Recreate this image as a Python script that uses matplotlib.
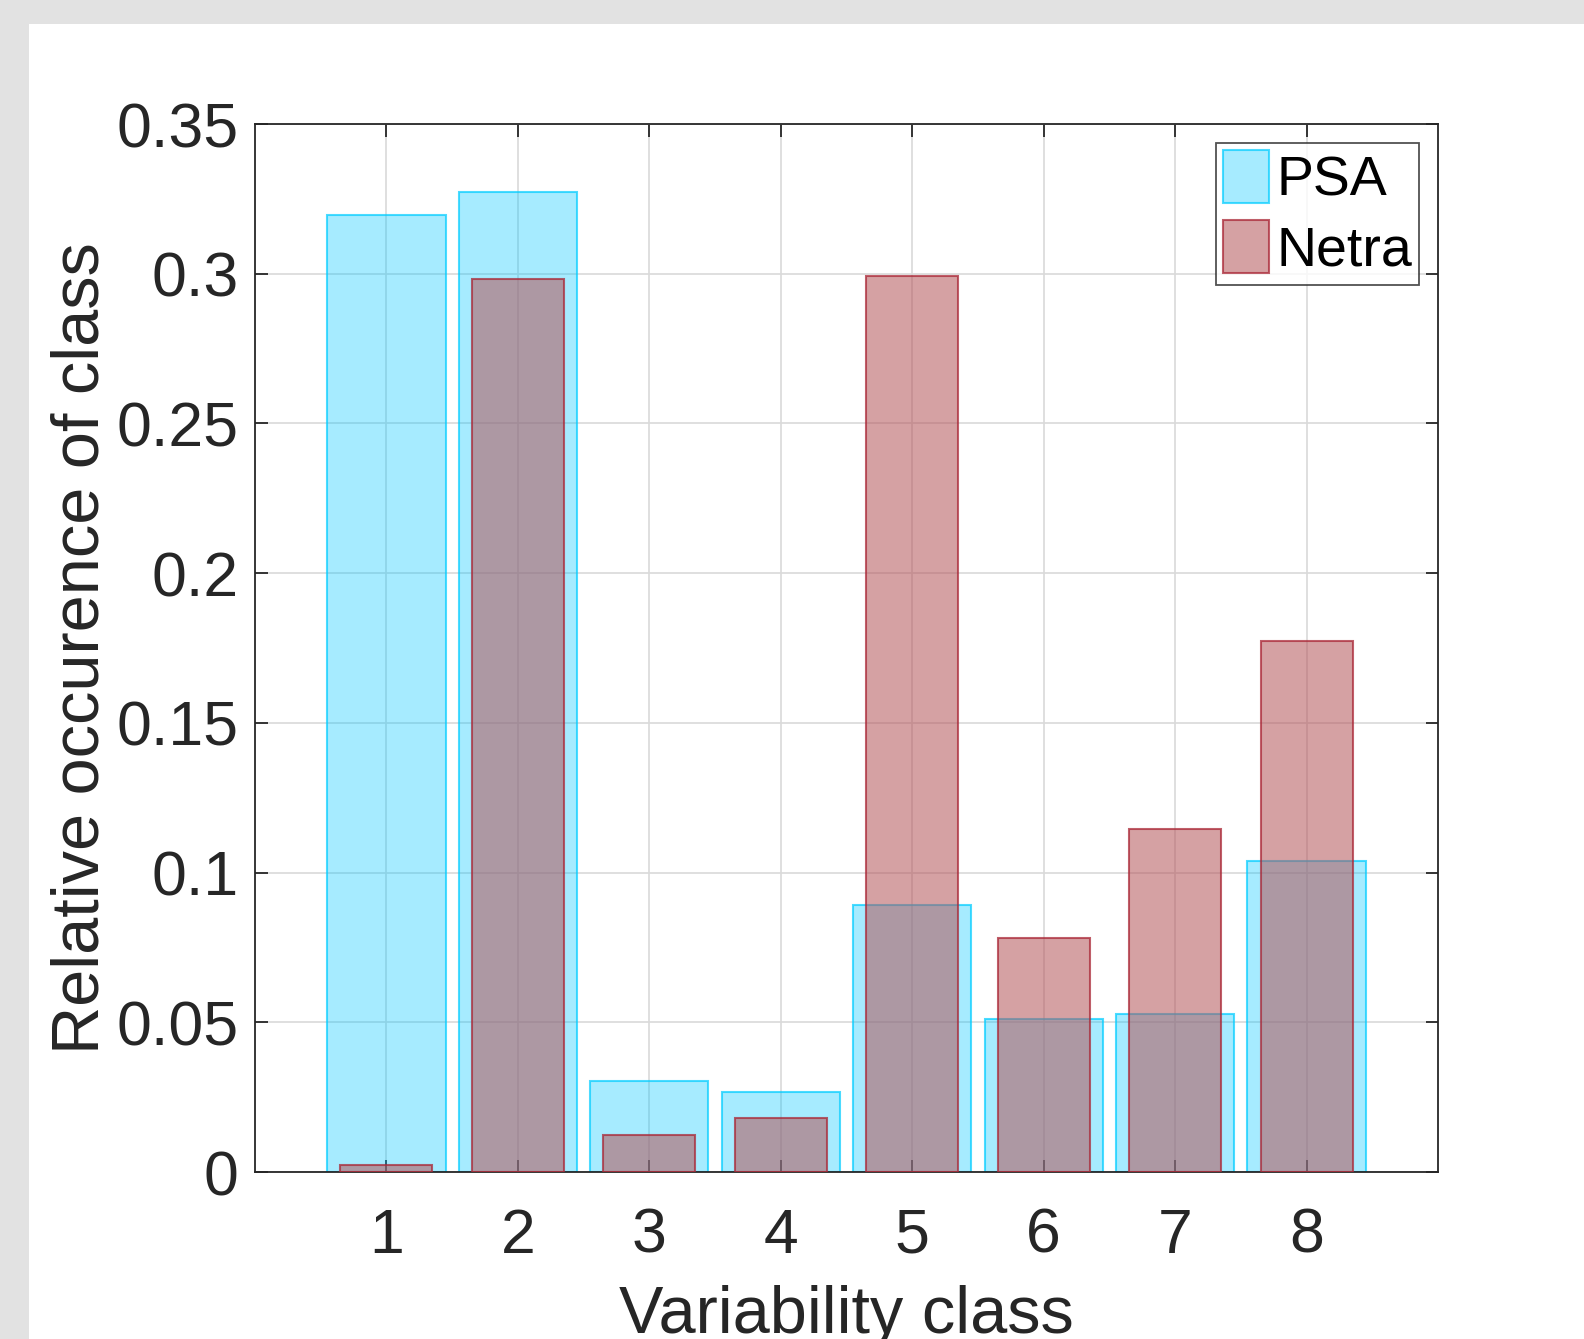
import matplotlib
matplotlib.use("Agg")
import matplotlib.pyplot as plt
from matplotlib.patches import Rectangle

classes = [1, 2, 3, 4, 5, 6, 7, 8]
psa = [0.3196, 0.3274, 0.0304, 0.0267, 0.0891, 0.0510, 0.0527, 0.1040]
netra = [0.0024, 0.2984, 0.0122, 0.0179, 0.2994, 0.0783, 0.1144, 0.1772]
yticks = [0, 0.05, 0.1, 0.15, 0.2, 0.25, 0.3, 0.35]
ytick_labels = ["0", "0.05", "0.1", "0.15", "0.2", "0.25", "0.3", "0.35"]

plt.rcParams['font.family'] = ['Liberation Sans', 'DejaVu Sans']

W, H = 1584, 1339
fig = plt.figure(figsize=(W / 100, H / 100), dpi=100)
fig.patch.set_facecolor((226/255, 226/255, 226/255))
fig.add_artist(Rectangle((29 / W, 0), 1 - 29 / W, (H - 24) / H, transform=fig.transFigure,
                         facecolor='white', edgecolor='none', zorder=-10))

L, R, T, B = 255, 1438, 124, 1172
ax = fig.add_axes([L / W, (H - B) / H, (R - L) / W, (B - T) / H])

ax.bar(classes, psa, width=0.9, color=(0/255, 198/255, 255/255, 0.35),
       edgecolor=(0/255, 205/255, 255/255, 0.7), linewidth=1.5, label='PSA', zorder=2)
ax.bar(classes, netra, width=0.7, color=(180/255, 84/255, 88/255, 0.55),
       edgecolor=(170/255, 40/255, 55/255, 0.75), linewidth=1.5, label='Netra', zorder=3)

ax.set_xlim(0, 9)
ax.set_ylim(0, 0.35)
ax.set_xticks(classes)
ax.set_yticks(yticks)
ax.set_yticklabels(ytick_labels)
ax.grid(True, color=(0.85, 0.85, 0.85), linewidth=1.2)
ax.set_axisbelow(True)

ax.tick_params(direction='in', length=9, width=1.3, top=True, right=True,
               labelsize=45, colors=(0.15, 0.15, 0.15))
ax.tick_params(axis='x', pad=25)
ax.tick_params(axis='y', pad=12)
for s in ax.spines.values():
    s.set_color((0.15, 0.15, 0.15))
    s.set_linewidth(1.3)

ax.set_xlabel('Variability class', fontsize=48, color=(0.15, 0.15, 0.15), labelpad=14)
ax.set_ylabel('Relative occurence of class', fontsize=48, color=(0.15, 0.15, 0.15), labelpad=3)

leg = ax.legend(loc='upper right', fontsize=40, frameon=True, fancybox=False,
                edgecolor=(0.15, 0.15, 0.15), borderpad=0.13, handlelength=0.83,
                handleheight=1.1, handletextpad=0.12, labelspacing=0.22,
                borderaxespad=0.34)
leg.get_frame().set_linewidth(1.3)

fig.savefig('out.png', dpi=100, facecolor=fig.get_facecolor())
